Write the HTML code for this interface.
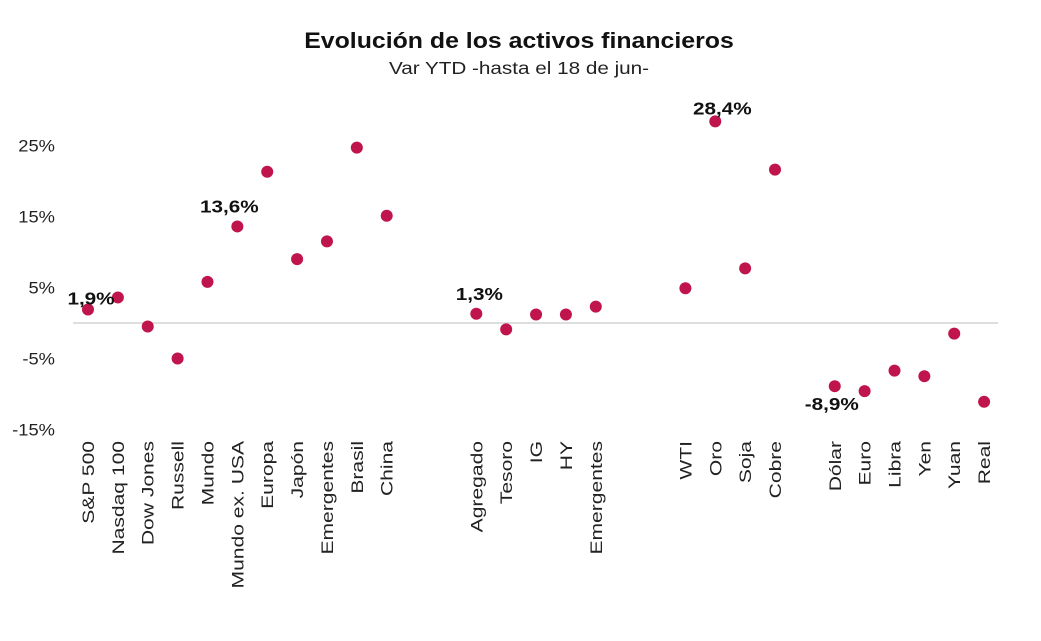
<!DOCTYPE html>
<html><head><meta charset="utf-8">
<style>
html,body{margin:0;padding:0;background:#fff;}
body{width:1041px;height:636px;overflow:hidden;font-family:"Liberation Sans",sans-serif;}
</style></head>
<body>
<svg id="chart" width="1041" height="636" xmlns="http://www.w3.org/2000/svg">
<text transform="translate(519,48) scale(1.13,1)" text-anchor="middle" font-size="22" font-weight="bold" fill="#111">Evolución de los activos financieros</text>
<text transform="translate(519,74) scale(1.15,1)" text-anchor="middle" font-size="18" fill="#222">Var YTD -hasta el 18 de jun-</text>
<g id="yaxis"></g>
<line x1="73" x2="998" y1="323" y2="323" stroke="#d4d4d4" stroke-width="1.5"/>
<g id="xaxis"></g>
<g id="points"></g>
<g id="labels"></g>
</svg>
<script>
const categories = ["S&P 500","Nasdaq 100","Dow Jones","Russell","Mundo","Mundo ex. USA","Europa","Japón","Emergentes","Brasil","China","Agregado","Tesoro","IG","HY","Emergentes","WTI","Oro","Soja","Cobre","Dólar","Euro","Libra","Yen","Yuan","Real"];
const slots = [0,1,2,3,4,5,6,7,8,9,10,13,14,15,16,17,20,21,22,23,25,26,27,28,29,30];
const values = [1.9,3.6,-0.5,-5.0,5.8,13.6,21.3,9.0,11.5,24.7,15.1,1.3,-0.9,1.2,1.2,2.3,4.9,28.4,7.7,21.6,-8.9,-9.6,-6.7,-7.5,-1.5,-11.1];
const yTicks = [25,15,5,-5,-15];
const labelIdx = [0,5,11,17,20];
const labelText = ["1,9%","13,6%","1,3%","28,4%","-8,9%"];

const NS="http://www.w3.org/2000/svg";
function xPos(s){return 88+s*29.87;}
function yPos(v){return 323-v*7.1;}
function mk(tag,attrs,parent,txt){const e=document.createElementNS(NS,tag);for(const k in attrs)e.setAttribute(k,attrs[k]);if(txt!==undefined)e.textContent=txt;parent.appendChild(e);return e;}

const ya=document.getElementById('yaxis');
yTicks.forEach(t=>{
  const e=mk('text',{transform:`translate(55,${yPos(t)+6}) scale(1.08,1)`,'text-anchor':'end','font-size':17,fill:'#222'},ya,t+'%');
  
  
});
const xa=document.getElementById('xaxis');
categories.forEach((c,i)=>{
  const x=xPos(slots[i])+6;
  const e=mk('text',{x:0,y:0,transform:`translate(${x},441) rotate(-90) scale(1.24,1)`,'text-anchor':'end','font-size':17,fill:'#222'},xa,c);
  
  
});
const pg=document.getElementById('points');
values.forEach((v,i)=>{
  const e=mk('circle',{cx:xPos(slots[i]),cy:yPos(v),r:6,fill:'#c0144c'},pg);
  
  
});
const lg=document.getElementById('labels');
const offs=[[3,-5],[-8,-14],[3,-14],[7,-7],[-3,24]];
labelIdx.forEach((idx,k)=>{
  const x=xPos(slots[idx])+offs[k][0], y=yPos(values[idx])+offs[k][1];
  const e=mk('text',{transform:`translate(${x},${y}) scale(1.15,1)`,'text-anchor':'middle','font-size':18,'font-weight':'bold',fill:'#111'},lg,labelText[k]);
  
  
});
</script>
</body></html>
